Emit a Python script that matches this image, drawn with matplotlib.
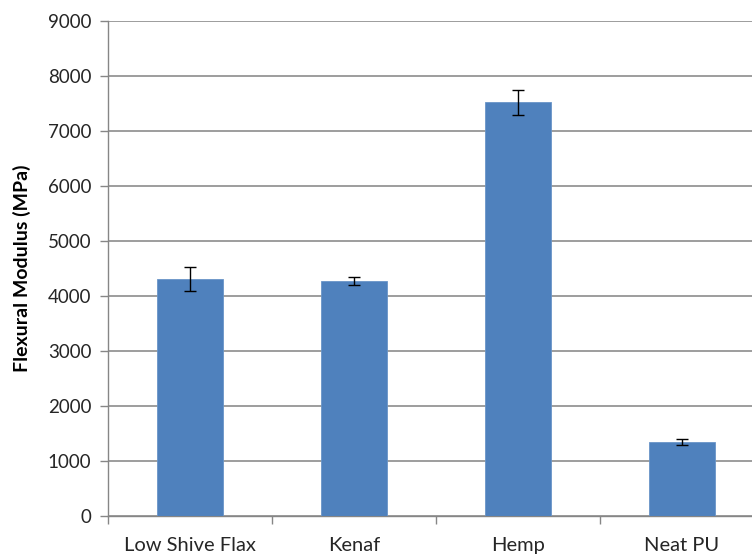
import matplotlib
matplotlib.use("Agg")
import matplotlib.pyplot as plt
from matplotlib.ticker import FixedLocator

categories = ["Low Shive Flax", "Kenaf", "Hemp", "Neat PU"]
modulus = [4305, 4270, 7520, 1340]
modulus_err = [220, 70, 225, 55]
yticks = [0, 1000, 2000, 3000, 4000, 5000, 6000, 7000, 8000, 9000]

plt.rcParams["font.family"] = ["Lato", "DejaVu Sans"]

fig = plt.figure(figsize=(7.52, 5.57), dpi=100)
ax = fig.add_axes([108 / 752, 41 / 557, 656 / 752, 495 / 557])

x = list(range(len(categories)))
ax.bar(x, modulus, width=0.4, color="#4F81BD", edgecolor="#6A95C8", linewidth=0.6, zorder=3)
ax.errorbar(x, modulus, yerr=modulus_err, fmt="none", ecolor="black",
            elinewidth=1.0, capsize=4, capthick=1.0, zorder=4)

ax.set_xlim(-0.5, len(categories) - 0.5)
ax.set_ylim(0, 9000)
ax.set_yticks(yticks)
ax.set_xticks(x)
ax.set_xticklabels(categories, fontsize=14.5, color="#262626")
ax.tick_params(axis="x", length=0, pad=15)
ax.xaxis.set_minor_locator(FixedLocator([i - 0.5 for i in range(len(categories) + 1)]))
ax.tick_params(axis="x", which="minor", length=6, width=1, color="#868686", direction="out")
ax.tick_params(axis="y", length=6, width=1, color="#868686", direction="out",
               labelsize=13.5, labelcolor="#262626", pad=6)

ax.yaxis.grid(True, color="#8C8C8C", linewidth=1.2, zorder=0)
ax.set_axisbelow(True)
for side in ("top", "right"):
    ax.spines[side].set_visible(False)
for side in ("left", "bottom"):
    ax.spines[side].set_color("#868686")
    ax.spines[side].set_linewidth(1.0)

ax.set_ylabel("Flexural Modulus (MPa)", fontsize=14, fontweight="bold", labelpad=12)

fig.savefig("out.png", dpi=100)
